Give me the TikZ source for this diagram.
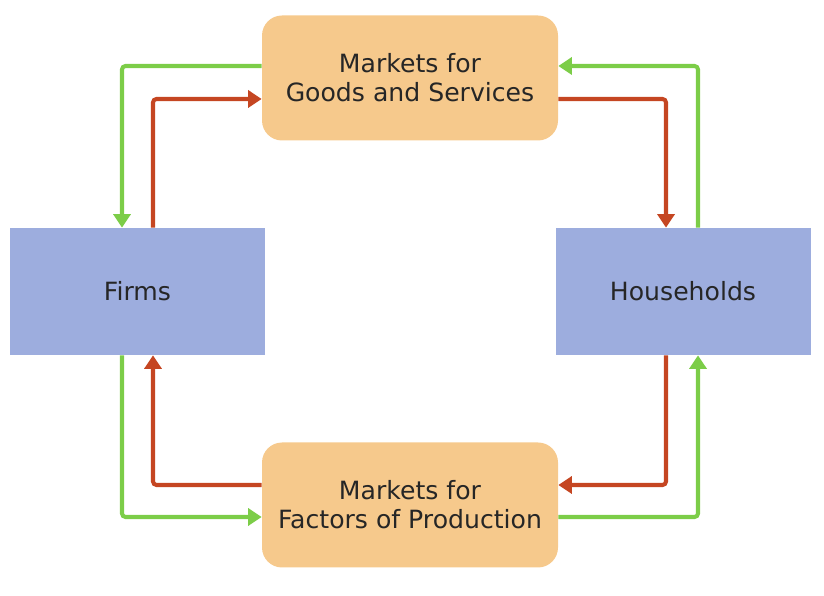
\documentclass[tikz,border=0pt]{standalone}
\usepackage{fontspec}
\setmainfont{DejaVu Sans}
\usepackage{xcolor}
\usetikzlibrary{positioning,calc,arrows.meta}
\definecolor{mkt}{RGB}{246,201,140}
\definecolor{agent}{RGB}{157,173,222}
\definecolor{flowg}{RGB}{124,205,72}
\definecolor{flowr}{RGB}{197,70,34}

\begin{document}
\begin{tikzpicture}[font=\fontsize{14.3}{16.5}\selectfont,text=black!85,
 m/.style={fill=mkt,rounded corners=0.4cm,minimum height=2.5cm,minimum width=5.92cm,align=center,inner sep=0pt},
 a/.style={fill=agent,minimum height=2.54cm,minimum width=5.1cm,align=center,inner sep=0pt},
 gr/.style={draw=flowg,line width=2.3pt,rounded corners=2pt,-{Triangle[length=0.27cm,width=0.34cm]}},
 rd/.style={draw=flowr,line width=2.3pt,rounded corners=2pt,-{Triangle[length=0.27cm,width=0.34cm]}}]
\useasboundingbox (0,0) rectangle (16.48,11.92);
\node[m] (goods) at (8.2,10.36) {Markets for\\Goods and Services};
\node[m] (factors) at (8.2,1.82) {Markets for\\Factors of Production};
\node[a] (firms) at (2.75,6.09) {Firms};
\node[a] (hh) at (13.66,6.09) {Households};
% upper loop
\draw[gr] ([yshift=.24cm]goods.west) -| ([xshift=-.31cm]firms.north);
\draw[rd] ([xshift=.31cm]firms.north) |- ([yshift=-.42cm]goods.west);
\draw[rd] ([yshift=-.42cm]goods.east) -| ([xshift=-.34cm]hh.north);
\draw[gr] ([xshift=.3cm]hh.north) |- ([yshift=.24cm]goods.east);
% lower loop
\draw[gr] ([xshift=-.31cm]firms.south) |- ([yshift=-.24cm]factors.west);
\draw[rd] ([yshift=.4cm]factors.west) -| ([xshift=.31cm]firms.south);
\draw[rd] ([xshift=-.34cm]hh.south) |- ([yshift=.4cm]factors.east);
\draw[gr] ([yshift=-.24cm]factors.east) -| ([xshift=.3cm]hh.south);
\end{tikzpicture}
\end{document}
